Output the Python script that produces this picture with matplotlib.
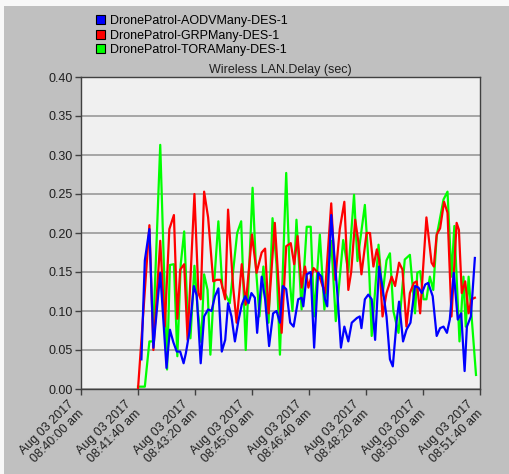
import datetime as dt
import matplotlib
matplotlib.use("Agg")
import matplotlib.pyplot as plt
from matplotlib.patches import Rectangle
from matplotlib.transforms import ScaledTranslation

plt.rcParams['font.family'] = ['Liberation Sans', 'DejaVu Sans']

series_names = ["DronePatrol-AODVMany-DES-1",
                "DronePatrol-GRPMany-DES-1",
                "DronePatrol-TORAMany-DES-1"]
series_colors = ["#0000ff", "#ff0000", "#00ff00"]

# sample times in seconds after 08:40:00, delay in seconds
aodv_t = [106, 112, 120, 127, 139, 150, 156, 162, 168, 174, 180, 184, 190, 198, 203,
          210, 216, 223, 229, 235, 241, 247, 253, 258, 264, 270, 276, 282, 288, 294,
          299, 305, 309, 317, 323, 330, 337, 343, 349, 354, 360, 367, 373, 381, 387,
          390, 396, 403, 409, 416, 422, 428, 432, 439, 444, 450, 456, 462, 469, 475,
          484, 489, 492, 498, 504, 510, 516, 523, 529, 536, 542, 547, 554, 558, 565,
          571, 578, 586, 592, 598, 604, 609, 617, 624, 630, 636, 642, 647, 654, 661,
          667, 673, 677, 684, 691]
aodv_v = [0.038, 0.165, 0.205, 0.053, 0.149, 0.027, 0.076, 0.060, 0.048, 0.048, 0.033, 0.046, 0.072, 0.132, 0.120,
          0.033, 0.093, 0.102, 0.100, 0.119, 0.129, 0.048, 0.063, 0.110, 0.093, 0.061, 0.087, 0.108, 0.119, 0.110,
          0.123, 0.117, 0.072, 0.144, 0.115, 0.055, 0.097, 0.100, 0.085, 0.132, 0.128, 0.085, 0.080, 0.115, 0.117,
          0.106, 0.147, 0.150, 0.053, 0.149, 0.144, 0.115, 0.106, 0.223, 0.175, 0.120, 0.053, 0.080, 0.061, 0.085,
          0.091, 0.093, 0.078, 0.115, 0.121, 0.115, 0.063, 0.157, 0.130, 0.093, 0.038, 0.029, 0.089, 0.112, 0.061,
          0.076, 0.085, 0.132, 0.130, 0.123, 0.134, 0.136, 0.119, 0.068, 0.078, 0.080, 0.072, 0.089, 0.149, 0.089,
          0.097, 0.023, 0.080, 0.093, 0.168]

grp_t = [100, 120, 127, 139, 147, 155, 163, 169, 174, 181, 187, 199, 206, 210, 216,
         223, 232, 238, 245, 253, 258, 267, 273, 282, 289, 300, 308, 317, 323, 329,
         340, 352, 360, 368, 374, 380, 387, 393, 399, 408, 416, 428, 439, 446, 454,
         462, 469, 474, 481, 487, 492, 501, 507, 513, 519, 523, 529, 536, 545, 551,
         558, 564, 571, 577, 584, 589, 595, 606, 615, 619, 624, 630, 637, 643, 650,
         659, 663, 668, 674, 680, 685, 691]
grp_v = [0.000, 0.210, 0.050, 0.190, 0.080, 0.205, 0.223, 0.090, 0.153, 0.160, 0.063, 0.250, 0.123, 0.115, 0.253,
         0.220, 0.138, 0.140, 0.140, 0.115, 0.230, 0.130, 0.085, 0.160, 0.108, 0.198, 0.149, 0.175, 0.180, 0.097,
         0.213, 0.072, 0.183, 0.187, 0.160, 0.196, 0.130, 0.157, 0.130, 0.155, 0.149, 0.123, 0.238, 0.140, 0.205,
         0.240, 0.127, 0.150, 0.217, 0.187, 0.147, 0.200, 0.200, 0.157, 0.179, 0.166, 0.093, 0.123, 0.144, 0.132,
         0.162, 0.153, 0.080, 0.123, 0.136, 0.138, 0.097, 0.220, 0.162, 0.157, 0.198, 0.206, 0.240, 0.226, 0.093,
         0.213, 0.204, 0.123, 0.138, 0.097, 0.115, 0.117]

tora_t = [100, 112, 120, 126, 139, 151, 156, 163, 169, 175, 181, 187, 192, 199, 205,
          211, 216, 222, 227, 234, 241, 248, 261, 274, 281, 289, 301, 307, 313, 320,
          329, 336, 343, 349, 360, 367, 371, 378, 387, 396, 403, 409, 419, 427, 439,
          447, 460, 469, 479, 485, 498, 506, 510, 522, 529, 536, 542, 548, 557, 568,
          577, 586, 590, 595, 601, 606, 612, 618, 624, 636, 643, 650, 655, 664, 671,
          675, 680, 693]
tora_v = [0.003, 0.003, 0.061, 0.061, 0.313, 0.025, 0.159, 0.160, 0.042, 0.160, 0.202, 0.095, 0.065, 0.158, 0.100,
          0.060, 0.147, 0.127, 0.044, 0.140, 0.215, 0.130, 0.110, 0.200, 0.215, 0.050, 0.258, 0.155, 0.093, 0.157,
          0.085, 0.219, 0.160, 0.044, 0.277, 0.132, 0.100, 0.217, 0.102, 0.208, 0.208, 0.093, 0.198, 0.102, 0.190,
          0.087, 0.191, 0.150, 0.249, 0.164, 0.236, 0.144, 0.068, 0.185, 0.120, 0.165, 0.174, 0.100, 0.072, 0.166,
          0.172, 0.097, 0.149, 0.151, 0.115, 0.115, 0.144, 0.127, 0.196, 0.243, 0.253, 0.144, 0.209, 0.061, 0.144,
          0.080, 0.144, 0.018]

start = dt.datetime(2017, 8, 3, 8, 40, 0)
x_ticks = [0, 100, 200, 300, 400, 500, 600, 700]
y_ticks = [0.00, 0.05, 0.10, 0.15, 0.20, 0.25, 0.30, 0.35, 0.40]

W, H = 510, 474
fig = plt.figure(figsize=(W / 100, H / 100), dpi=100, facecolor="#f8f8f8")
# grey panel behind everything
fig.patches.append(Rectangle((4 / W, 0), 1, 1 - 6 / H, transform=fig.transFigure,
                             facecolor="#c0c0c0", edgecolor="none", zorder=-10))

ax = fig.add_axes([81 / W, (H - 389) / H, 399 / W, 312 / H])
ax.set_facecolor("#f0f0f0")

data = [(aodv_t, aodv_v), (grp_t, grp_v), (tora_t, tora_v)]
zorders = [5, 4, 3]
for (t, v), c, z in zip(data, series_colors, zorders):
    ax.plot(t, v, color=c, lw=1.6, zorder=z, solid_joinstyle="round")

ax.set_xlim(x_ticks[0], x_ticks[-1])
ax.set_ylim(y_ticks[0], y_ticks[-1])
ax.set_yticks(y_ticks)
ax.set_yticklabels([f"{y:.2f}" for y in y_ticks], fontsize=9, color="#202020")

# x labels drawn by hand so they can sit a little left of each tick
ax.set_xticks(x_ticks)
ax.set_xticklabels([])
offset = ScaledTranslation(-0.13, -0.09, fig.dpi_scale_trans)
for s in x_ticks:
    d = start + dt.timedelta(seconds=s)
    lab = d.strftime("%b %d %Y") + "\n" + d.strftime("%I:%M:%S %p").lower()
    ax.text(s, 0, lab, transform=ax.get_xaxis_transform() + offset,
            rotation=45, ha="right", va="top", rotation_mode="anchor",
            multialignment="right", fontsize=9, color="#202020", clip_on=False)

ax.grid(axis="y", color="#999999", lw=1.2)
ax.grid(axis="x", visible=False)
ax.set_axisbelow(True)
for sp in ax.spines.values():
    sp.set_color("#404040")
    sp.set_linewidth(1.0)
ax.tick_params(axis="both", length=4, width=1, color="#404040", pad=2)

ax.set_title("Wireless LAN.Delay (sec)", fontsize=9, pad=3, color="#202020")

handles = [Rectangle((0, 0), 1, 1, facecolor=c, edgecolor="black", lw=0.8)
           for c in series_colors]
fig.legend(handles, series_names, loc="upper left",
           bbox_to_anchor=(96 / W, 1 - 15 / H), frameon=False, fontsize=9,
           handlelength=0.75, handleheight=0.75, handletextpad=0.4,
           labelspacing=0.2, borderpad=0, borderaxespad=0)

fig.savefig("out.png", dpi=100, facecolor=fig.get_facecolor())
